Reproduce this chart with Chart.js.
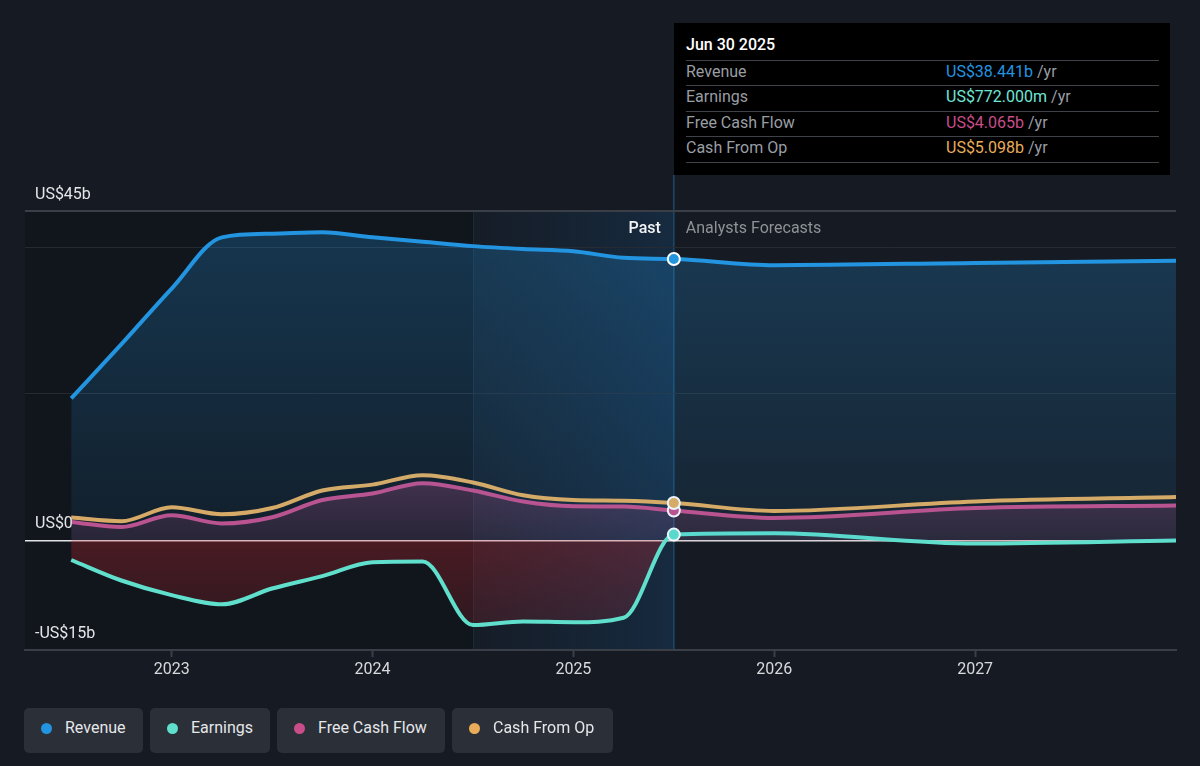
<!DOCTYPE html>
<html>
<head>
<meta charset="utf-8">
<script src="https://cdn.jsdelivr.net/npm/chart.js@4.4.1/dist/chart.umd.min.js"></script>
<style>
html,body{margin:0;padding:0;background:#161b23;width:1200px;height:766px;overflow:hidden;font-family:Roboto,"Noto Sans",sans-serif;}
#wrap{position:relative;width:1200px;height:766px;}
#c{position:absolute;left:0;top:0;}
#tip{position:absolute;left:674px;top:23px;width:496px;height:152px;background:#000;}
#tip .t{position:absolute;left:12px;top:12px;color:#fff;font-size:16px;font-weight:500;line-height:20px;}
#tip .sep{position:absolute;left:12px;width:473px;height:1px;background:#3f4349;}
#tip .lab{position:absolute;left:12px;color:#9a9ea4;font-size:16px;line-height:20px;}
#tip .val{position:absolute;left:272px;font-size:16px;line-height:20px;}
#tip .val span{color:#9a9ea4;}
.lg{position:absolute;top:708px;height:45px;background:#2a2f38;border-radius:5px;}
.lg i{position:absolute;left:17px;top:15px;width:11px;height:11px;border-radius:50%;}
.lg b{position:absolute;left:41px;top:10px;font-weight:400;color:#e6e7e9;font-size:16px;line-height:20px;}
</style>
</head>
<body>
<div id="wrap">
<canvas id="c" width="1200" height="766"></canvas>
<div id="tip"></div>
<div id="legend"></div>
</div>
<script>
// ---- data ----
const xValues  = [2022.5, 2022.75, 2023.0, 2023.25, 2023.5, 2023.75, 2024.0, 2024.25, 2024.5, 2024.75, 2025.0, 2025.25, 2025.5, 2026.0, 2027.0, 2028.0];
const revenue  = [19.4, 26.8, 34.4, 41.4, 41.9, 42.1, 41.4, 40.8, 40.2, 39.8, 39.5, 38.6, 38.441, 37.6, 37.9, 38.2];
const earnings = [-2.7, -5.5, -7.5, -8.75, -6.6, -4.9, -3.0, -2.9, -11.6, -11.1, -11.2, -10.6, 0.772, 0.95, -0.45, -0.05];
const freeCashFlow = [2.5, 1.8, 3.4, 2.3, 3.15, 5.5, 6.4, 7.8, 6.8, 5.3, 4.65, 4.6, 4.065, 3.05, 4.4, 4.75];
const cashFromOp   = [3.1, 2.6, 4.5, 3.55, 4.4, 6.8, 7.6, 8.9, 7.9, 6.15, 5.5, 5.4, 5.098, 4.0, 5.3, 5.9];
const seriesNames  = ['Revenue', 'Earnings', 'Free Cash Flow', 'Cash From Op'];
const tipValues    = ['US$38.441b', 'US$772.000m', 'US$4.065b', 'US$5.098b'];
const tipTitle     = 'Jun 30 2025';
const xTickYears   = [2023, 2024, 2025, 2026, 2027];
const yGridValues  = [-15, 0, 20, 40, 45];
const yLabelValues = [45, 0, -15];
const yLabelTexts  = ['US$45b', 'US$0', '-US$15b'];
const bandStart = 2024.5;
const nowX = 2025.5;
const NOW_IDX = xValues.indexOf(nowX);

const COL = {rev:'#2394e0', earn:'#5fdfcc', fcf:'#c94d88', cfo:'#e9ad5a'};
const tipCols = ['#2394e0', '#6fe6d4', '#c94d88', '#e9ad5a'];
const legendCols = [COL.rev, COL.earn, COL.fcf, COL.cfo];

// ---- tooltip box ----
const tip = document.getElementById('tip');
let h = '<div class="t">' + tipTitle + '</div>';
const sepY = [37, 62, 88, 113, 139];
sepY.forEach(y => h += '<div class="sep" style="top:' + y + 'px"></div>');
const rowY = [39, 64, 90, 115];
seriesNames.forEach((n, i) => {
  h += '<div class="lab" style="top:' + rowY[i] + 'px">' + n + '</div>';
  h += '<div class="val" style="top:' + rowY[i] + 'px;color:' + tipCols[i] + '">' + tipValues[i] + ' <span>/yr</span></div>';
});
tip.innerHTML = h;

// ---- legend ----
const lgPos = [[24, 119], [150, 120], [277, 168], [452, 161]];
let lh = '';
seriesNames.forEach((n, i) => {
  lh += '<div class="lg" style="left:' + lgPos[i][0] + 'px;width:' + lgPos[i][1] + 'px"><i style="background:' + legendCols[i] + '"></i><b>' + n + '</b></div>';
});
document.getElementById('legend').innerHTML = lh;

function pts(arr) { return xValues.map((x, i) => ({x: x, y: arr[i]})); }

function vGrad(chart, stops) {
  const {ctx, chartArea, scales} = chart;
  if (!chartArea || !scales.y) return 'rgba(0,0,0,0)';
  const top = chartArea.top, bot = chartArea.bottom;
  const g = ctx.createLinearGradient(0, top, 0, bot);
  stops.forEach(([v, c]) => {
    let f = (scales.y.getPixelForValue(v) - top) / (bot - top);
    f = Math.min(1, Math.max(0, f));
    g.addColorStop(f, c);
  });
  return g;
}

const ptRadius = c => c.dataIndex === NOW_IDX ? 6 : 0;

function lineDs(label, arr, color, extra) {
  return Object.assign({
    label: label,
    data: pts(arr),
    borderColor: color,
    borderWidth: 4,
    cubicInterpolationMode: 'monotone',
    pointRadius: ptRadius,
    pointHoverRadius: ptRadius,
    pointBackgroundColor: color,
    pointBorderColor: '#ffffff',
    pointBorderWidth: 2,
    fill: false
  }, extra || {});
}

const datasets = [
  lineDs('Revenue', revenue, COL.rev, {
    fill: 'origin',
    backgroundColor: c => vGrad(c.chart, [[45, 'rgba(35,148,224,0.27)'], [0, 'rgba(35,148,224,0.08)']])
  }),
  lineDs('Earnings', earnings, COL.earn, {
    fill: 'origin',
    backgroundColor: c => vGrad(c.chart, [[45, 'rgba(95,223,204,0.05)'], [0.001, 'rgba(95,223,204,0.05)'], [0, 'rgba(205,40,50,0.30)'], [-15, 'rgba(205,40,50,0.12)']])
  }),
  lineDs('Cash From Op', cashFromOp, COL.cfo),
  lineDs('Free Cash Flow', freeCashFlow, COL.fcf, {
    fill: 'origin',
    backgroundColor: c => vGrad(c.chart, [[9, 'rgba(201,77,136,0.30)'], [0, 'rgba(201,77,136,0.12)']])
  })
];

const bgPlugin = {
  id: 'bgPlugin',
  beforeDraw(chart) {
    const {ctx, chartArea: a, scales: {x}} = chart;
    const xb = x.getPixelForValue(bandStart), xn = x.getPixelForValue(nowX);
    ctx.save();
    ctx.fillStyle = '#11151c';
    ctx.fillRect(a.left, a.top, xb - a.left, a.bottom - a.top);
    const g = ctx.createLinearGradient(xb, 0, xn, 0);
    g.addColorStop(0, 'rgba(25,100,170,0.03)');
    g.addColorStop(1, 'rgba(25,110,190,0.19)');
    ctx.fillStyle = g;
    ctx.fillRect(xb, a.top, xn - xb, a.bottom - a.top);
    ctx.strokeStyle = 'rgba(40,90,130,0.25)';
    ctx.lineWidth = 1;
    ctx.beginPath(); ctx.moveTo(xb + 0.5, a.top); ctx.lineTo(xb + 0.5, a.bottom); ctx.stroke();
    ctx.strokeStyle = '#1e486a';
    ctx.lineWidth = 1.5;
    ctx.beginPath(); ctx.moveTo(xn, a.top - 36); ctx.lineTo(xn, a.bottom); ctx.stroke();
    ctx.restore();
  },
  afterDatasetsDraw(chart) {
    const {ctx, chartArea: a, scales: {x, y}} = chart;
    const xn = x.getPixelForValue(nowX);
    ctx.save();
    ctx.textBaseline = 'middle';
    ctx.font = '500 16px Roboto, "Noto Sans", sans-serif';
    ctx.fillStyle = '#f2f3f4';
    ctx.textAlign = 'right';
    ctx.fillText('Past', xn - 13, a.top + 18);
    ctx.font = '400 16px Roboto, "Noto Sans", sans-serif';
    ctx.fillStyle = '#8e9298';
    ctx.textAlign = 'left';
    ctx.fillText('Analysts Forecasts', xn + 12, a.top + 18);
    ctx.fillStyle = '#e4e6e9';
    ctx.font = '400 16px Roboto, "Noto Sans", sans-serif';
    yLabelValues.forEach((v, i) => {
      ctx.fillText(yLabelTexts[i], a.left + 10, y.getPixelForValue(v) - 16.5);
    });
    ctx.restore();
  }
};

new Chart(document.getElementById('c'), {
  type: 'line',
  data: {datasets: datasets},
  plugins: [bgPlugin],
  options: {
    responsive: false,
    devicePixelRatio: 1,
    animation: false,
    events: [],
    layout: {padding: {left: 25, right: 24, top: 211, bottom: 76}},
    plugins: {legend: {display: false}, tooltip: {enabled: false}},
    scales: {
      x: {
        type: 'linear', min: 2022.27, max: 2028,
        afterBuildTicks: s => { s.ticks = xTickYears.map(v => ({value: v})); },
        afterFit: s => { s.height = 40; },
        ticks: {callback: v => String(v), color: '#d8dadd', font: {size: 16, family: 'Roboto'}, padding: 3, maxRotation: 0, autoSkip: false},
        grid: {drawOnChartArea: false, drawTicks: true, tickLength: 7, tickColor: '#3a3f47', tickWidth: 2},
        border: {color: '#3a3f47', width: 2}
      },
      y: {
        min: -15, max: 45,
        afterBuildTicks: s => { s.ticks = yGridValues.map(v => ({value: v})); },
        afterFit: s => { s.width = 0; },
        ticks: {display: false},
        border: {display: false},
        grid: {
          drawTicks: false,
          color: c => {
            const v = c.tick && c.tick.value;
            if (v === 0) return '#e2e3e5';
            if (v === 45) return '#3a3f47';
            if (v === -15) return 'rgba(0,0,0,0)';
            return '#262b33';
          },
          lineWidth: c => {
            const v = c.tick && c.tick.value;
            if (v === 45) return 2;
            if (v === 0) return 1.5;
            return 1;
          }
        }
      }
    }
  }
});
</script>
</body>
</html>
